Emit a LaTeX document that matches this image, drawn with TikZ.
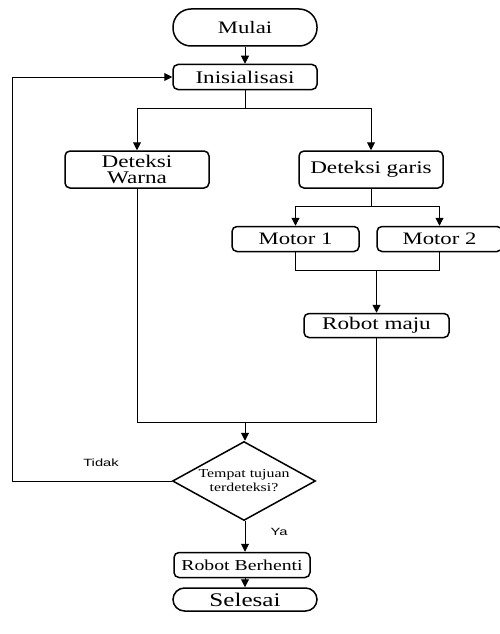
\documentclass[tikz,border=0pt]{standalone}
\usepackage{fontspec}
\setmainfont{Liberation Serif}[FakeStretch=1.3]
\newfontfamily\labelfont{Liberation Sans}[FakeStretch=1.4]
\usetikzlibrary{arrows.meta,shapes.geometric}
\begin{document}
\begin{tikzpicture}[x=1pt,y=-1pt,
  box/.style={draw,line width=1.5pt,rounded corners=5pt,minimum height=25pt,inner sep=0pt,font=\fontsize{17.8}{19.3}\selectfont,align=center},
  term/.style={draw,line width=1.5pt,rounded corners=18pt,minimum width=144pt,minimum height=37pt,inner sep=0pt,font=\fontsize{17.5}{19}\selectfont},
  dec/.style={draw,line width=1.5pt,diamond,minimum width=143pt,minimum height=79pt,inner sep=0pt,aspect=1.8,align=center,font=\fontsize{12.2}{14}\selectfont},
  conn/.style={line width=1pt},
  arr/.style={line width=1pt,-{Triangle[length=8pt,width=8pt]}},
  lbl/.style={font=\labelfont\fontsize{10.5}{12}\selectfont}]
\useasboundingbox[fill=white] (0,0) rectangle (500,634);
\node[term] (mulai) at (245,27.5) {Mulai};
\node[box,minimum width=144pt] (init) at (245,77) {Inisialisasi};
\node[box,minimum width=144pt,minimum height=37pt] (dw) at (137,169.5) {Deteksi\\[-3pt]Warna};
\node[box,minimum width=144pt,minimum height=37pt] (dg) at (371,169.5) {Deteksi garis};
\node[box,minimum width=127pt,font=\fontsize{17.5}{19}\selectfont] (m1) at (295.5,239) {Motor 1};
\node[box,minimum width=125pt,font=\fontsize{17.5}{19}\selectfont] (m2) at (439.5,239) {Motor 2};
\node[box,minimum width=145pt,minimum height=24pt] (rm) at (376.5,325.5) {Robot maju};
\node[dec] (dec) at (244,481) {Tempat tujuan\\terdeteksi?};
\node[box,minimum width=136pt,font=\fontsize{15.2}{17}\selectfont] (rb) at (242,565) {Robot Berhenti};
\node[term,minimum height=23pt,rounded corners=11.5pt,font=\fontsize{19.3}{21}\selectfont] (sel) at (245,599.5) {Selesai};
\coordinate (s1) at (245,108);
\coordinate (s2) at (371,206);
\coordinate (j1) at (376.5,270);
\coordinate (j2) at (245,422);
\coordinate (lp) at (12,481);
\node[lbl] (tidak) at (101,463) {Tidak};
\node[lbl] (ya) at (279,532) {Ya};
% connectors
\draw[arr] (mulai.south -| init.north) -- (init.north);
\draw[conn] (init.south) -- (s1);
\draw[arr] (s1) -| (dw.north);
\draw[arr] (s1) -| (dg.north);
\draw[conn] (dg.south) -- (s2);
\draw[arr] (s2) -| (m1.north);
\draw[arr] (s2) -| (m2.north);
\draw[conn] (m1.south) |- (j1);
\draw[conn] (m2.south) |- (j1);
\draw[arr] (j1) -- (rm.north);
\draw[conn] (rm.south) |- (j2);
\draw[conn] (dw.south) |- (j2);
\draw[arr] (j2) -- (j2 |- dec.north);
\draw[conn] (dec.west) -- (lp);
\draw[arr] (lp) |- (init.west);
\draw[arr] (dec.south -| j2) -- (rb.north -| j2);
\draw[arr] (rb.south -| j2) -- (sel.north -| j2);
\end{tikzpicture}
\end{document}
